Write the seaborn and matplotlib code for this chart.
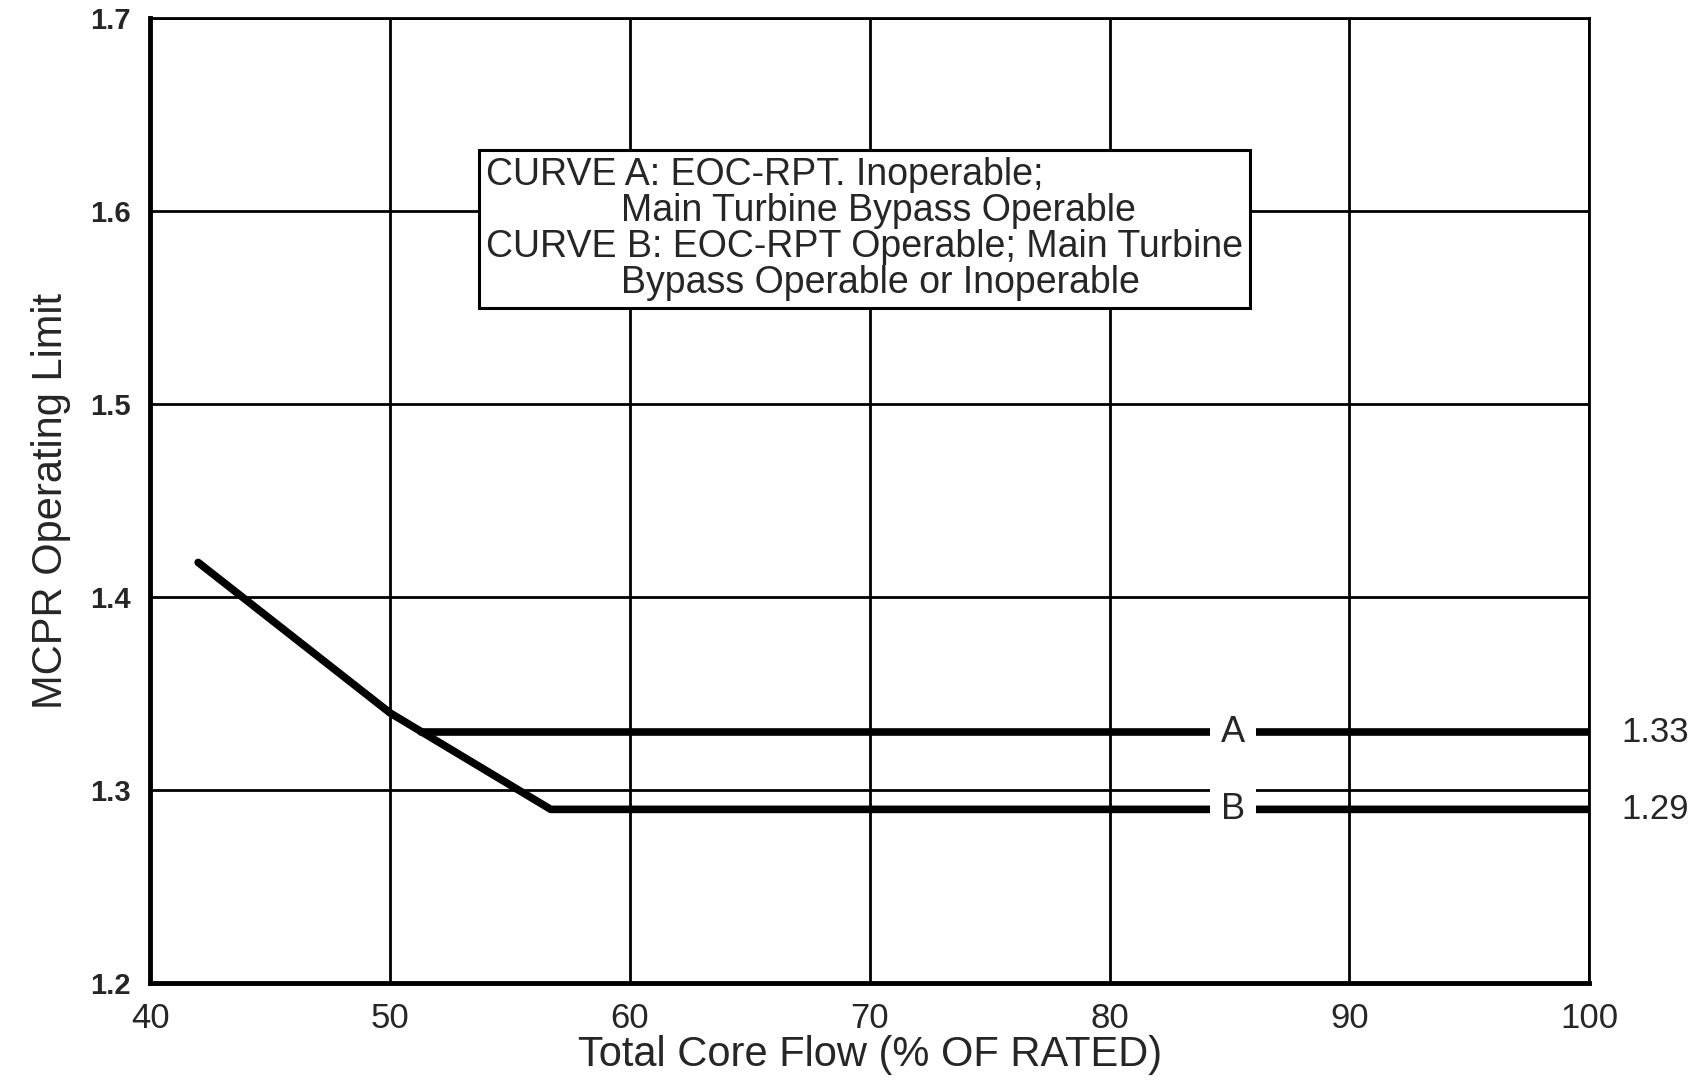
import matplotlib
matplotlib.use("Agg")
import matplotlib.pyplot as plt
import seaborn as sns
import pandas as pd

# chart data
curve_b_flow = [42.0, 50.0, 56.7, 100.0]
curve_b_mcpr = [1.418, 1.34, 1.29, 1.29]
curve_a_flow = [51.3, 100.0]
curve_a_mcpr = [1.33, 1.33]
end_labels = ["1.33", "1.29"]
x_ticks = [40, 50, 60, 70, 80, 90, 100]
y_ticks = [1.2, 1.3, 1.4, 1.5, 1.6, 1.7]
note_lines = ["CURVE A: EOC-RPT. Inoperable;",
              "             Main Turbine Bypass Operable",
              "CURVE B: EOC-RPT Operable; Main Turbine",
              "             Bypass Operable or Inoperable"]

sns.set_style("white")
plt.rcParams['font.family'] = ['Liberation Sans Narrow', 'Liberation Sans', 'DejaVu Sans']

df_a = pd.DataFrame({'flow': curve_a_flow, 'mcpr': curve_a_mcpr})
df_b = pd.DataFrame({'flow': curve_b_flow, 'mcpr': curve_b_mcpr})

fig = plt.figure(figsize=(17.07, 10.87), dpi=100)
ax = fig.add_axes([0.088, 0.0957, 0.843, 0.8873])

# grid first so the curves sit on top
ax.set_xlim(40, 100)
ax.set_ylim(1.2, 1.7)
ax.set_xticks(x_ticks)
ax.set_yticks(y_ticks)
ax.grid(True, color='black', linewidth=2)
ax.set_axisbelow(True)

sns.lineplot(data=df_b, x='flow', y='mcpr', sort=False, color='black',
             linewidth=5.5, ax=ax, zorder=3)
sns.lineplot(data=df_a, x='flow', y='mcpr', sort=False, color='black',
             linewidth=5.5, ax=ax, zorder=3)

# curve tags, the white box cuts the lines like the original
for lab, yv in zip(["A", "B"], [curve_a_mcpr[-1], curve_b_mcpr[-1]]):
    ax.text(85.15, yv, lab, ha='center', va='center', fontsize=26, zorder=5,
            bbox=dict(facecolor='white', edgecolor='none', pad=8))
for lab, yv in zip(end_labels, [curve_a_mcpr[-1], curve_b_mcpr[-1]]):
    ax.text(1.022, yv, lab, transform=ax.get_yaxis_transform(), ha='left',
            va='center', fontsize=25, clip_on=False)

# note box
ax.text(54.0, 1.591, "\n".join(note_lines), ha='left', va='center',
        fontsize=27, linespacing=1.0, zorder=6,
        bbox=dict(facecolor='white', edgecolor='black', linewidth=2.2, pad=5))

for side in ['top', 'right']:
    ax.spines[side].set_linewidth(2)
for side in ['left', 'bottom']:
    ax.spines[side].set_linewidth(3.5)
for s in ax.spines.values():
    s.set_color('black')

ax.tick_params(axis='x', direction='out', length=12, width=2, labelsize=25, pad=2)
ax.tick_params(axis='y', direction='out', length=10, width=2, labelsize=21, pad=4)
ax.set_xticklabels([str(t) for t in x_ticks])
ax.set_yticklabels([f"{t:.1f}" for t in y_ticks], fontweight='bold')

ax.set_xlabel("Total Core Flow (% OF RATED)", fontsize=30, labelpad=0)
ax.set_ylabel("MCPR Operating Limit", fontsize=30, labelpad=14)

fig.savefig("out.png", dpi=100, facecolor='white')
